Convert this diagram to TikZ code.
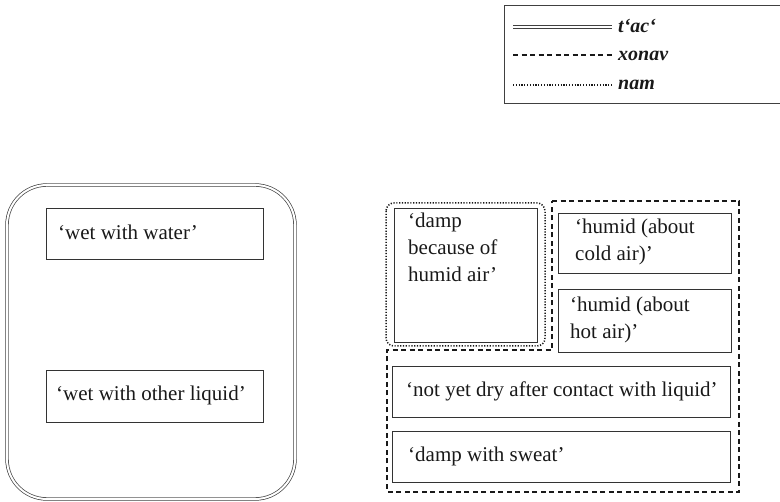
\documentclass[tikz,border=0pt]{standalone}
\usepackage{fontspec}
\setmainfont{Liberation Serif}
\begin{document}
\begin{tikzpicture}[x=1pt,y=-1pt,
  every node/.style={font=\fontsize{21}{27}\selectfont, text=black!90},
  box/.style={draw=black!80, line width=0.8pt, rectangle, anchor=north west, inner xsep=0pt, inner ysep=0pt},
  boxtext/.style={anchor=base west, inner sep=0pt, align=left},
  leg/.style={line width=1pt, draw=black!90},
  legtext/.style={anchor=base west, inner sep=0pt, font=\fontsize{20}{24}\selectfont\bfseries\itshape}
]
\useasboundingbox (0,0) rectangle (780,502);

% legend
\draw[draw=black!75, line width=0.9pt] (781,5) -- (504,5) -- (504,103) -- (781,103);
\coordinate (l1a) at (513,27); \coordinate (l1b) at (612,27);
\coordinate (l2a) at (513,55); \coordinate (l2b) at (612,55);
\coordinate (l3a) at (513,85); \coordinate (l3b) at (612,85);
\draw[draw=black!75, line width=0.7pt, double, double distance=2pt] (l1a) -- (l1b);
\draw[leg, line width=1.6pt, dash pattern=on 5pt off 3.5pt] (l2a) -- (l2b);
\draw[leg, line width=1.5pt, dash pattern=on 1.2pt off 1.6pt] (l3a) -- (l3b);
\node[legtext] (tac) at (618,33) {t‘ac‘};
\node[legtext] (xonav) at (618,61) {xonav};
\node[legtext] (nam) at (618,90) {nam};

% left group
\draw[draw=black!75, line width=0.7pt, double, double distance=2pt, rounded corners=40pt] (7,185) rectangle (295,499);
\node[box, minimum width=217pt, minimum height=51pt] (water) at (46,208) {};
\node[boxtext] (waterT) at (58,240) {‘wet with water’};
\node[box, minimum width=217pt, minimum height=52pt] (other) at (46,370) {};
\node[boxtext] (otherT) at (56,401) {‘wet with other liquid’};

% right group
\draw[draw=black!90, line width=1.5pt, dash pattern=on 1.2pt off 1.6pt, rounded corners=8pt] (386,203) rectangle (545,346);
\draw[draw=black!90, line width=1.6pt, dash pattern=on 5pt off 3.5pt] (552,201) -- (739,201) -- (739,492) -- (387,492) -- (387,350) -- (552,350) -- cycle;

\node[box, minimum width=143pt, minimum height=134pt] (damp) at (394,208) {};
\node[boxtext] (dampT) at (408,228) {\parbox[t]{125pt}{‘damp\\because of\\humid air’}};

\node[box, minimum width=173pt, minimum height=60pt] (cold) at (558,213) {};
\node[boxtext] (coldT) at (575,234) {\parbox[t]{150pt}{‘humid (about\\cold air)’}};

\node[box, minimum width=173pt, minimum height=63pt] (hot) at (558,289) {};
\node[boxtext] (hotT) at (570,312) {\parbox[t]{150pt}{‘humid (about\\hot air)’}};

\node[box, minimum width=338pt, minimum height=51pt] (dry) at (392,366) {};
\node[boxtext] (dryT) at (406,397) {‘not yet dry after contact with liquid’};

\node[box, minimum width=338pt, minimum height=51pt] (sweat) at (392,431) {};
\node[boxtext] (sweatT) at (408,462) {‘damp with sweat’};
\end{tikzpicture}
\end{document}
